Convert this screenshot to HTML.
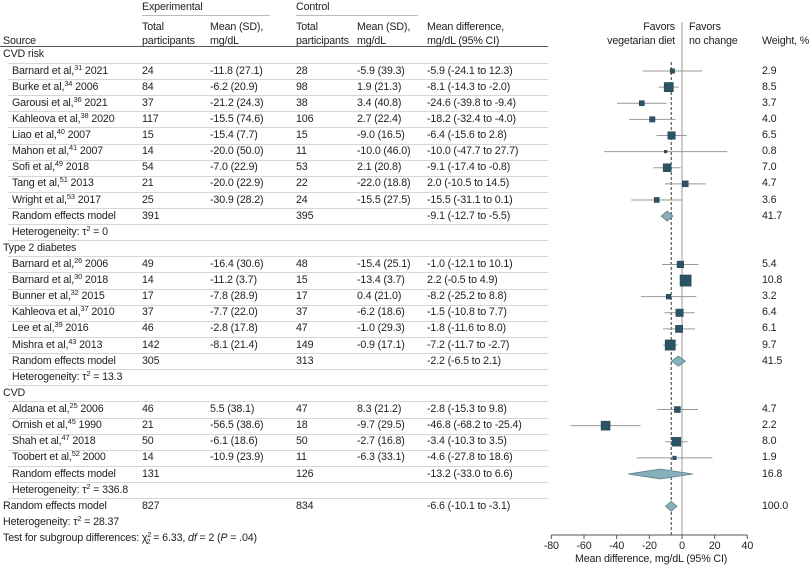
<!DOCTYPE html>
<html><head><meta charset="utf-8">
<style>
body{margin:0;background:#fff;}
#c{position:relative;width:810px;height:568px;overflow:hidden;font-family:"Liberation Sans",sans-serif;font-size:10.7px;letter-spacing:-0.15px;color:#222;}
.t{position:absolute;white-space:nowrap;line-height:14px;}
sup{font-size:7.5px;line-height:0;vertical-align:4px;}
.ln{position:absolute;height:1px;background:#d6d6d6;}
svg{position:absolute;left:0;top:0;}
</style></head><body>
<div id="c">
<div class="t" style="left:142px;top:0px">Experimental</div>
<div class="ln" style="left:142px;top:15px;width:128px;background:#bbb"></div>
<div class="t" style="left:296px;top:0px">Control</div>
<div class="ln" style="left:296px;top:15px;width:122px;background:#bbb"></div>
<div class="t" style="left:142px;top:20px">Total<br>participants</div>
<div class="t" style="left:210px;top:20px">Mean (SD),<br>mg/dL</div>
<div class="t" style="left:296px;top:20px">Total<br>participants</div>
<div class="t" style="left:357px;top:20px">Mean (SD),<br>mg/dL</div>
<div class="t" style="left:427px;top:20px">Mean difference,<br>mg/dL (95% CI)</div>
<div class="t" style="left:3px;top:34px">Source</div>
<div class="t" style="left:595px;top:20px;text-align:right;width:80px">Favors<br>vegetarian diet</div>
<div class="t" style="left:689px;top:20px">Favors<br>no change</div>
<div class="t" style="left:762px;top:34px">Weight, %</div>
<div class="ln" style="left:0;top:46px;width:548px;background:#555"></div>
<div id="rows"></div>
<div class="t" style="left:3px;top:515px">Heterogeneity: τ<sup>2</sup> = 28.37</div>
<div class="t" style="left:3px;top:531px">Test for subgroup differences: χ<sup>2</sup><sub style="font-size:7.5px;line-height:0;margin-left:-5px">2</sub> = 6.33, <i>df</i> = 2 (<i>P</i> = .04)</div>
<div class="t" style="left:575px;top:552px">Mean difference, mg/dL (95% CI)</div>
<svg id="plot" width="810" height="568"></svg>
</div>
<script>
const labels=["CVD risk","Barnard et al,<sup>31</sup> 2021","Burke et al,<sup>34</sup> 2006","Garousi et al,<sup>36</sup> 2021","Kahleova et al,<sup>38</sup> 2020","Liao et al,<sup>40</sup> 2007","Mahon et al,<sup>41</sup> 2007","Sofi et al,<sup>49</sup> 2018","Tang et al,<sup>51</sup> 2013","Wright et al,<sup>53</sup> 2017","Random effects model","Heterogeneity: τ<sup>2</sup> = 0","Type 2 diabetes","Barnard et al,<sup>26</sup> 2006","Barnard et al,<sup>30</sup> 2018","Bunner et al,<sup>32</sup> 2015","Kahleova et al,<sup>37</sup> 2010","Lee et al,<sup>39</sup> 2016","Mishra et al,<sup>43</sup> 2013","Random effects model","Heterogeneity: τ<sup>2</sup> = 13.3","CVD","Aldana et al,<sup>25</sup> 2006","Ornish et al,<sup>45</sup> 1990","Shah et al,<sup>47</sup> 2018","Toobert et al,<sup>52</sup> 2000","Random effects model","Heterogeneity: τ<sup>2</sup> = 336.8","Random effects model"];
const kinds=["g","s","s","s","s","s","s","s","s","s","d","h","g","s","s","s","s","s","s","d","h","g","s","s","s","s","d","h","D"];
const expN=["","24","84","37","117","15","14","54","21","25","391","","","49","14","17","37","46","142","305","","","46","21","50","14","131","","827"];
const expMean=["","-11.8 (27.1)","-6.2 (20.9)","-21.2 (24.3)","-15.5 (74.6)","-15.4 (7.7)","-20.0 (50.0)","-7.0 (22.9)","-20.0 (22.9)","-30.9 (28.2)","","","","-16.4 (30.6)","-11.2 (3.7)","-7.8 (28.9)","-7.7 (22.0)","-2.8 (17.8)","-8.1 (21.4)","","","","5.5 (38.1)","-56.5 (38.6)","-6.1 (18.6)","-10.9 (23.9)","","",""];
const ctlN=["","28","98","38","106","15","11","53","22","24","395","","","48","15","17","37","47","149","313","","","47","18","50","11","126","","834"];
const ctlMean=["","-5.9 (39.3)","1.9 (21.3)","3.4 (40.8)","2.7 (22.4)","-9.0 (16.5)","-10.0 (46.0)","2.1 (20.8)","-22.0 (18.8)","-15.5 (27.5)","","","","-15.4 (25.1)","-13.4 (3.7)","0.4 (21.0)","-6.2 (18.6)","-1.0 (29.3)","-0.9 (17.1)","","","","8.3 (21.2)","-9.7 (29.5)","-2.7 (16.8)","-6.3 (33.1)","","",""];
const md=[null,-5.9,-8.1,-24.6,-18.2,-6.4,-10.0,-9.1,2.0,-15.5,-9.1,null,null,-1.0,2.2,-8.2,-1.5,-1.8,-7.2,-2.2,null,null,-2.8,-46.8,-3.4,-4.6,-13.2,null,-6.6];
const lo=[null,-24.1,-14.3,-39.8,-32.4,-15.6,-47.7,-17.4,-10.5,-31.1,-12.7,null,null,-12.1,-0.5,-25.2,-10.8,-11.6,-11.7,-6.5,null,null,-15.3,-68.2,-10.3,-27.8,-33.0,null,-10.1];
const hi=[null,12.3,-2.0,-9.4,-4.0,2.8,27.7,-0.8,14.5,0.1,-5.5,null,null,10.1,4.9,8.8,7.7,8.0,-2.7,2.1,null,null,9.8,-25.4,3.5,18.6,6.6,null,-3.1];
const weights=["","2.9","8.5","3.7","4.0","6.5","0.8","7.0","4.7","3.6","41.7","","","5.4","10.8","3.2","6.4","6.1","9.7","41.5","","","4.7","2.2","8.0","1.9","16.8","","100.0"];
const ticks=[-80,-60,-40,-20,0,20,40];
const overall=-6.6;

const X0=682, PX=196/120;
function xs(v){return X0+v*PX;}
function ys(i){return 71+(i-1)*16.12;}
function fmt(v){return (v<0?"-":"")+Math.abs(v).toFixed(1);}

const rowsEl=document.getElementById('rows');
let html='';
for(let i=0;i<labels.length;i++){
  const y=ys(i), top=(y-7.5).toFixed(1);
  const ind=(kinds[i]==='g'||kinds[i]==='D')?3:12;
  html+=`<div class="t" style="left:${ind}px;top:${top}px">${labels[i]}</div>`;
  if(expN[i])html+=`<div class="t" style="left:142px;top:${top}px">${expN[i]}</div>`;
  if(expMean[i])html+=`<div class="t" style="left:210px;top:${top}px">${expMean[i]}</div>`;
  if(ctlN[i])html+=`<div class="t" style="left:296px;top:${top}px">${ctlN[i]}</div>`;
  if(ctlMean[i])html+=`<div class="t" style="left:357px;top:${top}px">${ctlMean[i]}</div>`;
  if(md[i]!==null)html+=`<div class="t" style="left:427px;top:${top}px">${fmt(md[i])} (${fmt(lo[i])} to ${fmt(hi[i])})</div>`;
  if(weights[i])html+=`<div class="t" style="left:762px;top:${top}px">${weights[i]}</div>`;
  if(i<labels.length-1){
    const l=kinds[i]==='D'?0:8;
    html+=`<div class="ln" style="left:${l}px;top:${(y+8).toFixed(1)}px;width:${548-l}px"></div>`;
  }
}
rowsEl.innerHTML=html;

const NS='http://www.w3.org/2000/svg';
const svg=document.getElementById('plot');
function mk(tag,attrs){const e=document.createElementNS(NS,tag);for(const k in attrs)e.setAttribute(k,attrs[k]);svg.appendChild(e);return e;}
let e;
e=mk('line',{x1:xs(0),x2:xs(0),y1:22,y2:535,stroke:'#bbb','stroke-width':1.5});


e=mk('line',{x1:xs(overall),x2:xs(overall),y1:62,y2:535,stroke:'#333','stroke-width':1,'stroke-dasharray':'3,2'});


e=mk('line',{x1:xs(ticks[0]),x2:xs(ticks[ticks.length-1]),y1:535,y2:535,stroke:'#555','stroke-width':1});


ticks.forEach(t=>{
  e=mk('line',{x1:xs(t),x2:xs(t),y1:535,y2:539,stroke:'#555'});
  
  
  e=mk('text',{x:xs(t),y:549,'text-anchor':'middle','font-size':'10.7','font-family':'Liberation Sans, sans-serif',fill:'#222'});
  e.textContent=t;
  
  
});
for(let i=0;i<labels.length;i++){
  if(md[i]===null)continue;
  const y=ys(i);
  if(kinds[i]==='s'){
    e=mk('line',{x1:xs(lo[i]),x2:xs(hi[i]),y1:y,y2:y,stroke:'#999','stroke-width':1});
    
    
    const w=parseFloat(weights[i]);
    // box size grows with weight and precision (narrow CI widens box slightly)
    const s=Math.max(2+0.85*w, (hi[i]-lo[i])<45 && Math.abs(md[i])>30 ? 9 : 0);
    e=mk('rect',{x:xs(md[i])-s/2,y:y-s/2,width:s,height:s,fill:'#2b5464',stroke:'#1f3f4c','stroke-width':0.5});
    
    
  }else{
    const h=5;
    e=mk('polygon',{points:`${xs(lo[i])},${y} ${xs(md[i])},${y-h} ${xs(hi[i])},${y} ${xs(md[i])},${y+h}`,fill:'#86aebb',stroke:'#5d7f8a','stroke-width':0.8});
    
    
  }
}
</script>
</body></html>
